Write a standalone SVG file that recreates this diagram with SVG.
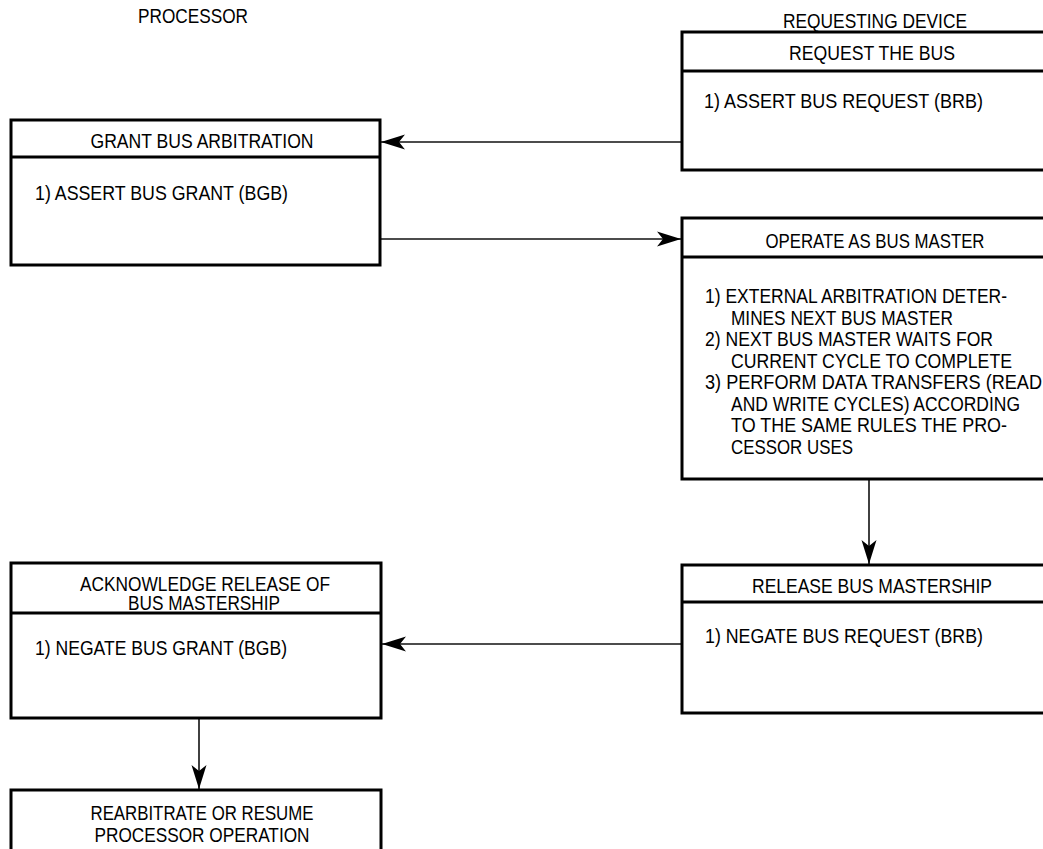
<svg xmlns="http://www.w3.org/2000/svg" width="1043" height="849" viewBox="0 0 1043 849">
<style>
.box{fill:#fff;stroke:#000;stroke-width:3}
.div{stroke:#000;stroke-width:3}
.con{fill:none;stroke:#111;stroke-width:1.6}
text{font-family:"Liberation Sans",Arial,sans-serif;font-size:21px;fill:#000}
.c{text-anchor:middle}
.s{font-size:20px}
</style>
<defs>
<marker id="ah" markerUnits="userSpaceOnUse" viewBox="-26 -10 30 20" refX="0" refY="0" markerWidth="30" markerHeight="20" orient="auto">
<path d="M0,0 L-24,-7.5 L-18,0 L-24,7.5 Z" fill="#000"/>
</marker>
</defs>
<rect width="1043" height="849" fill="#fff"/>
<g id="lanes">
<text class="c" x="193" y="23" textLength="110" lengthAdjust="spacingAndGlyphs">PROCESSOR</text>
<text class="c" x="875" y="28" textLength="184" lengthAdjust="spacingAndGlyphs">REQUESTING DEVICE</text>
</g>
<g id="connectors">
<path class="con" d="M682,142 H381" marker-end="url(#ah)"/>
<path class="con" d="M380,239 H681" marker-end="url(#ah)"/>
<path class="con" d="M869,479 V564" marker-end="url(#ah)"/>
<path class="con" d="M682,644 H382" marker-end="url(#ah)"/>
<path class="con" d="M199,718 V789" marker-end="url(#ah)"/>
</g>
<g id="grant">
<rect class="box" x="11" y="120" width="369" height="145"/>
<line class="div" x1="11" y1="157" x2="380" y2="157"/>
<text class="c" x="202" y="148" textLength="223" lengthAdjust="spacingAndGlyphs">GRANT BUS ARBITRATION</text>
<text x="35" y="200" textLength="253" lengthAdjust="spacingAndGlyphs">1)  ASSERT BUS GRANT (BGB)</text>
</g>
<g id="request">
<rect class="box" x="682" y="32" width="400" height="138"/>
<line class="div" x1="682" y1="71" x2="1082" y2="71"/>
<text class="c" x="872" y="60" textLength="166" lengthAdjust="spacingAndGlyphs">REQUEST THE BUS</text>
<text x="704" y="108" textLength="279" lengthAdjust="spacingAndGlyphs">1)  ASSERT BUS REQUEST (BRB)</text>
</g>
<g id="operate">
<rect class="box" x="682" y="218" width="400" height="261"/>
<line class="div" x1="682" y1="257" x2="1082" y2="257"/>
<text class="c" x="875" y="248" textLength="219" lengthAdjust="spacingAndGlyphs">OPERATE AS BUS MASTER</text>
<text x="705" y="303" textLength="302" lengthAdjust="spacingAndGlyphs">1) EXTERNAL ARBITRATION DETER-</text>
<text x="731" y="324.5" textLength="222" lengthAdjust="spacingAndGlyphs">MINES NEXT BUS MASTER</text>
<text x="705" y="346" textLength="288" lengthAdjust="spacingAndGlyphs">2) NEXT BUS MASTER WAITS FOR</text>
<text x="731" y="367.5" textLength="281" lengthAdjust="spacingAndGlyphs">CURRENT CYCLE TO COMPLETE</text>
<text x="705" y="389" textLength="337" lengthAdjust="spacingAndGlyphs">3) PERFORM DATA TRANSFERS (READ</text>
<text x="731" y="410.5" textLength="289" lengthAdjust="spacingAndGlyphs">AND WRITE CYCLES) ACCORDING</text>
<text x="731" y="432" textLength="276" lengthAdjust="spacingAndGlyphs">TO THE SAME RULES THE PRO-</text>
<text x="731" y="453.5" textLength="122" lengthAdjust="spacingAndGlyphs">CESSOR USES</text>
</g>
<g id="release">
<rect class="box" x="682" y="565" width="400" height="148"/>
<line class="div" x1="682" y1="602" x2="1082" y2="602"/>
<text class="c" x="872" y="593" textLength="240" lengthAdjust="spacingAndGlyphs">RELEASE BUS MASTERSHIP</text>
<text x="705" y="643" textLength="278" lengthAdjust="spacingAndGlyphs">1) NEGATE BUS REQUEST (BRB)</text>
</g>
<g id="acknowledge">
<rect class="box" x="11" y="563" width="370" height="155"/>
<line class="div" x1="11" y1="613" x2="381" y2="613"/>
<text class="c s" x="205" y="591" textLength="250" lengthAdjust="spacingAndGlyphs">ACKNOWLEDGE RELEASE OF</text>
<text class="c s" x="204" y="610" textLength="152" lengthAdjust="spacingAndGlyphs">BUS MASTERSHIP</text>
<text x="35" y="655" textLength="252" lengthAdjust="spacingAndGlyphs">1) NEGATE BUS GRANT (BGB)</text>
</g>
<g id="rearbitrate">
<rect class="box" x="11" y="790" width="370" height="80"/>
<text class="c" x="202" y="820" textLength="223" lengthAdjust="spacingAndGlyphs">REARBITRATE OR RESUME</text>
<text class="c" x="202" y="842" textLength="215" lengthAdjust="spacingAndGlyphs">PROCESSOR OPERATION</text>
</g>
</svg>
